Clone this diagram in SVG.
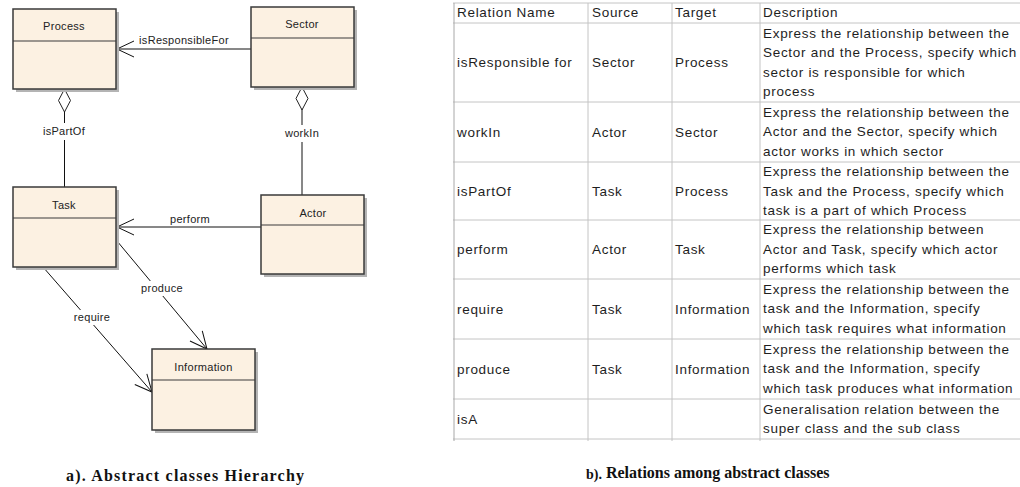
<svg xmlns="http://www.w3.org/2000/svg" width="1020" height="487" viewBox="0 0 1020 487">
<style>
.shadow{fill:#b4b4b4}
.box{fill:#FCF1E2;stroke:#3a3a3a;stroke-width:1.5}
.sep{stroke:#3a3a3a;stroke-width:1.2}
.nt{font-family:"Liberation Sans",Arial,sans-serif;font-size:11px;fill:#222;text-anchor:middle;letter-spacing:0.3px}
.conn{stroke:#111;stroke-width:1;fill:none}
.bg{fill:#fff}
.grid{stroke:#c4c4c4;stroke-width:1}
.tt{font-family:"Liberation Sans",Arial,sans-serif;font-size:13.5px;fill:#1e1e1e;letter-spacing:0.7px}
.cap{font-family:"Liberation Serif","Times New Roman",serif;font-weight:bold;font-size:16px;fill:#111}
</style>
<defs>
<marker id="open" markerUnits="userSpaceOnUse" viewBox="0 0 24 20" markerWidth="24" markerHeight="20" refX="20" refY="10" orient="auto">
<path d="M3 2 L20 10 L3 18" fill="none" stroke="#111" stroke-width="1"/>
</marker>
<marker id="diamond" markerUnits="userSpaceOnUse" viewBox="0 0 26 14" markerWidth="26" markerHeight="14" refX="1" refY="7" orient="auto">
<path d="M1 7 L12.5 1 L24 7 L12.5 13 Z" fill="#fff" stroke="#222" stroke-width="1"/>
</marker>
</defs>
<rect width="1020" height="487" fill="#fff"/>

<g id="connectors">
<line class="conn" x1="251" y1="49" x2="117" y2="49" marker-end="url(#open)"/>
<line class="conn" x1="64.5" y1="89" x2="64.5" y2="187" marker-start="url(#diamond)"/>
<line class="conn" x1="302" y1="87" x2="302" y2="195" marker-start="url(#diamond)"/>
<line class="conn" x1="261" y1="227" x2="117" y2="227" marker-end="url(#open)"/>
<line class="conn" x1="117" y1="241" x2="207" y2="349" marker-end="url(#open)"/>
<line class="conn" x1="43" y1="267" x2="152" y2="392" marker-end="url(#open)"/>
<rect class="bg" x="40" y="123" width="49" height="17"/>
<rect class="bg" x="281" y="125" width="42" height="17"/>
<rect class="bg" x="139" y="281" width="47" height="15"/>
<rect class="bg" x="72" y="310" width="41" height="15"/>
<text class="nt" x="184" y="44">isResponsibleFor</text>
<text class="nt" x="64" y="135">isPartOf</text>
<text class="nt" x="302" y="137">workIn</text>
<text class="nt" x="190" y="223">perform</text>
<text class="nt" x="162" y="292">produce</text>
<text class="nt" x="92" y="321">require</text>
</g>

<g id="process">
<rect class="shadow" x="16" y="12" width="103" height="80"/>
<rect class="box" x="13" y="9" width="103" height="80"/>
<line class="sep" x1="13" y1="41" x2="116" y2="41"/>
<text class="nt" x="64" y="30">Process</text>
</g>
<g id="sector">
<rect class="shadow" x="254" y="10" width="103" height="80"/>
<rect class="box" x="251" y="7" width="103" height="80"/>
<line class="sep" x1="251" y1="38" x2="354" y2="38"/>
<text class="nt" x="302" y="28">Sector</text>
</g>
<g id="task">
<rect class="shadow" x="16" y="190" width="103" height="80"/>
<rect class="box" x="13" y="187" width="103" height="80"/>
<line class="sep" x1="13" y1="218" x2="116" y2="218"/>
<text class="nt" x="64" y="209">Task</text>
</g>
<g id="actor">
<rect class="shadow" x="264" y="198" width="103" height="79"/>
<rect class="box" x="261" y="195" width="103" height="79"/>
<line class="sep" x1="261" y1="225" x2="364" y2="225"/>
<text class="nt" x="313" y="217">Actor</text>
</g>
<g id="information">
<rect class="shadow" x="155" y="352" width="103" height="81"/>
<rect class="box" x="152" y="349" width="103" height="81"/>
<line class="sep" x1="152" y1="380" x2="255" y2="380"/>
<text class="nt" x="203.5" y="371">Information</text>
</g>

<g id="table">
<g class="grid">
<line x1="453" y1="3" x2="1020" y2="3"/>
<line x1="453" y1="23" x2="1020" y2="23"/>
<line x1="453" y1="102" x2="1020" y2="102"/>
<line x1="453" y1="162" x2="1020" y2="162"/>
<line x1="453" y1="220" x2="1020" y2="220"/>
<line x1="453" y1="279" x2="1020" y2="279"/>
<line x1="453" y1="339" x2="1020" y2="339"/>
<line x1="453" y1="399" x2="1020" y2="399"/>
<line x1="453" y1="439" x2="1020" y2="439"/>
<line x1="454" y1="3" x2="454" y2="441" stroke="#a8a8a8"/>
<line x1="588" y1="3" x2="588" y2="441"/>
<line x1="672" y1="3" x2="672" y2="441"/>
<line x1="760" y1="3" x2="760" y2="441"/>
</g>
<g class="tt">
<text x="457" y="17">Relation Name</text><text x="592" y="17">Source</text><text x="675" y="17">Target</text><text x="763" y="17">Description</text>

<text x="457" y="67">isResponsible for</text><text x="592" y="67">Sector</text><text x="675" y="67">Process</text>
<text x="763" y="37.5">Express the relationship between the</text>
<text x="763" y="57">Sector and the Process, specify which</text>
<text x="763" y="76.5">sector is responsible for which</text>
<text x="763" y="96">process</text>

<text x="457" y="136.5">workIn</text><text x="592" y="136.5">Actor</text><text x="675" y="136.5">Sector</text>
<text x="763" y="116.5">Express the relationship between the</text>
<text x="763" y="136">Actor and the Sector, specify which</text>
<text x="763" y="155.5">actor works in which sector</text>

<text x="457" y="195.5">isPartOf</text><text x="592" y="195.5">Task</text><text x="675" y="195.5">Process</text>
<text x="763" y="176">Express the relationship between the</text>
<text x="763" y="195.5">Task and the Process, specify which</text>
<text x="763" y="215">task is a part of which Process</text>

<text x="457" y="254">perform</text><text x="592" y="254">Actor</text><text x="675" y="254">Task</text>
<text x="763" y="234">Express the relationship between</text>
<text x="763" y="253.5">Actor and Task, specify which actor</text>
<text x="763" y="273">performs which task</text>

<text x="457" y="313.5">require</text><text x="592" y="313.5">Task</text><text x="675" y="313.5">Information</text>
<text x="763" y="293.5">Express the relationship between the</text>
<text x="763" y="313">task and the Information, specify</text>
<text x="763" y="332.5">which task requires what information</text>

<text x="457" y="373.5">produce</text><text x="592" y="373.5">Task</text><text x="675" y="373.5">Information</text>
<text x="763" y="353.5">Express the relationship between the</text>
<text x="763" y="373">task and the Information, specify</text>
<text x="763" y="392.5">which task produces what information</text>

<text x="457" y="423.5">isA</text>
<text x="763" y="413.5">Generalisation relation between the</text>
<text x="763" y="433">super class and the sub class</text>
</g>
</g>

<g id="captions">
<text class="cap" x="66" y="481" letter-spacing="1.2">a). Abstract classes Hierarchy</text>
<text class="cap" x="586" y="478"><tspan font-size="14px" dy="1">b).</tspan><tspan dy="-1"> Relations among abstract classes</tspan></text>
</g>
</svg>
